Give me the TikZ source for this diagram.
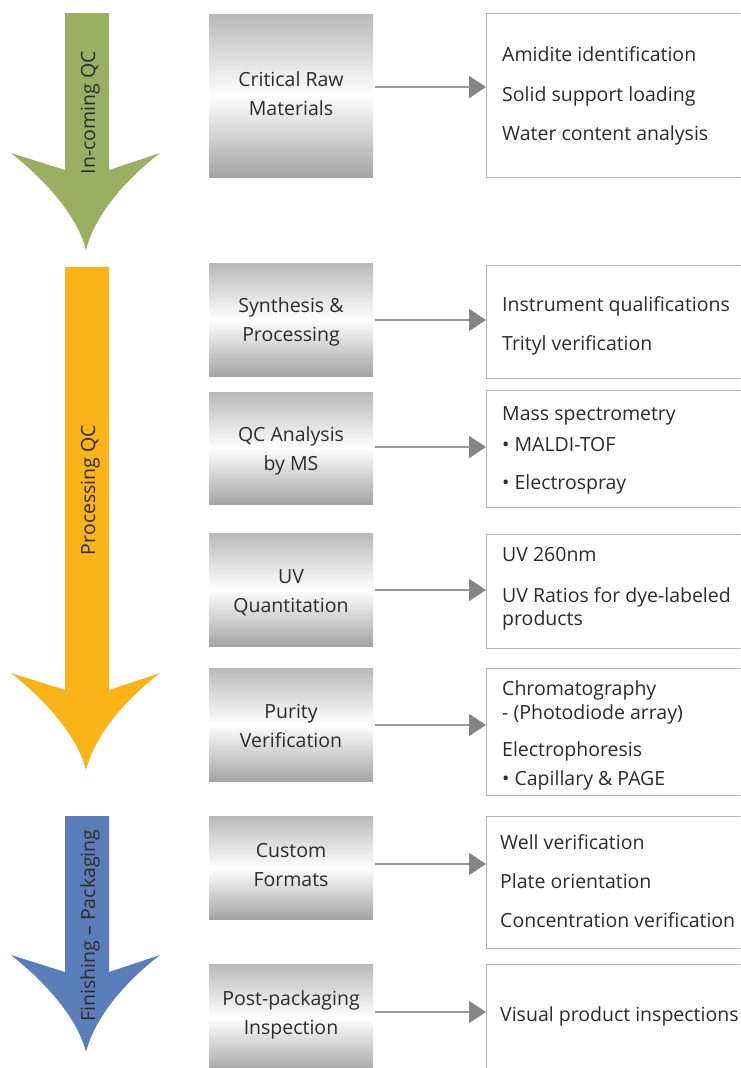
\documentclass[tikz,border=0pt]{standalone}
\usepackage{fontspec}
\setmainfont{Open Sans}
\usetikzlibrary{arrows.meta}
\definecolor{qcgreen}{HTML}{9BAF63}
\definecolor{qcorange}{HTML}{FAB418}
\definecolor{qcblue}{HTML}{5B7DB9}
\definecolor{txt}{HTML}{2B2B2B}
\definecolor{boxline}{HTML}{B4B4B4}
\definecolor{connline}{HTML}{9A9A9A}
\definecolor{conntip}{HTML}{858585}
\definecolor{gtop}{HTML}{B9B9B9}
\definecolor{gbot}{HTML}{A4A4A4}
\newcommand\qcfont{\fontsize{19.5}{23}\selectfont}
\begin{document}
\begin{tikzpicture}[x=1pt,y=-1pt,
  gbox/.style={minimum width=164pt, inner sep=0pt, draw=none,
    top color=gtop, bottom color=gbot, middle color=white},
  gtext/.style={anchor=base, inner sep=0pt, font=\qcfont, text=txt},
  rbox/.style={draw=boxline, line width=1.2pt, fill=white, anchor=north west,
    minimum width=290pt, inner sep=0pt},
  item/.style={anchor=base west, inner sep=0pt, font=\qcfont, text=txt},
  connector/.style={draw=connline, line width=2pt,
    -{Triangle[length=17pt,width=22pt,color=conntip,fill=conntip]}},
  stagelabel/.style={rotate=90, anchor=base, inner sep=0pt, font=\qcfont, text=txt}
]
\useasboundingbox (0,0) rectangle (740,1068);
\clip (0,0) rectangle (740,1068);

% ---- stage arrows ----
\fill[qcgreen] (65,13) -- (109,13) -- (109,170) -- (160,153)
  .. controls (125,180) and (95,215) .. (86,250)
  .. controls (77,215) and (45,180) .. (11,153) -- (65,170) -- cycle;
\fill[qcorange] (65,267) -- (109,267) -- (109,690) -- (160,673)
  .. controls (125,700) and (95,735) .. (86,770)
  .. controls (77,735) and (45,700) .. (11,673) -- (65,690) -- cycle;
\fill[qcblue] (65,816) -- (109,816) -- (109,972) -- (160,955)
  .. controls (125,982) and (95,1017) .. (86,1052)
  .. controls (77,1017) and (45,982) .. (11,955) -- (65,972) -- cycle;

\node[stagelabel] (s1) at (95,112.5) {In-coming QC};
\node[stagelabel] (s2) at (95,490) {Processing QC};
\node[stagelabel] (s3) at (95,925.5) {Finishing – Packaging};

% ---- grey step boxes ----
\node[gbox, minimum height=163pt] (g1) at (291,95.5) {};
\node[gbox, minimum height=113pt] (g2) at (291,319.5) {};
\node[gbox, minimum height=112pt] (g3) at (291,448) {};
\node[gbox, minimum height=113pt] (g4) at (291,589.5) {};
\node[gbox, minimum height=113pt] (g5) at (291,724.5) {};
\node[gbox, minimum height=103pt] (g6) at (291,867.5) {};
\node[gbox, minimum height=108pt] (g7) at (291,1018) {};

\node[gtext] (g1a) at (291,86) {Critical Raw};
\node[gtext] (g1b) at (291,115) {Materials};
\node[gtext] (g2a) at (291,312) {Synthesis \&};
\node[gtext] (g2b) at (291,341) {Processing};
\node[gtext] (g3a) at (291,441) {QC Analysis};
\node[gtext] (g3b) at (291,470) {by MS};
\node[gtext] (g4a) at (291,583) {UV};
\node[gtext] (g4b) at (291,612) {Quantitation};
\node[gtext] (g5a) at (291,718) {Purity};
\node[gtext] (g5b) at (291,747) {Verification};
\node[gtext] (g6a) at (291,857) {Custom};
\node[gtext] (g6b) at (291,886) {Formats};
\node[gtext] (g7a) at (291,1005) {Post-packaging};
\node[gtext] (g7b) at (291,1034) {Inspection};

% ---- detail boxes ----
\node[rbox, minimum height=164pt] (r1) at (486,13) {};
\node[rbox, minimum height=113pt] (r2) at (486,265) {};
\node[rbox, minimum height=117pt] (r3) at (486,390) {};
\node[rbox, minimum height=114pt] (r4) at (486,534) {};
\node[rbox, minimum height=127pt] (r5) at (486,668) {};
\node[rbox, minimum height=132pt] (r6) at (486,816) {};
\node[rbox, minimum height=120pt] (r7) at (486,964) {};

\node[item] (r1a) at (502,61) {Amidite identification};
\node[item] (r1b) at (502,101) {Solid support loading};
\node[item] (r1c) at (502,140) {Water content analysis};
\node[item] (r2a) at (502,311) {Instrument qualifications};
\node[item] (r2b) at (502,350) {Trityl verification};
\node[item] (r3a) at (502,420) {Mass spectrometry};
\node[item] (r3b) at (502,451) {• MALDI-TOF};
\node[item] (r3c) at (502,489) {• Electrospray};
\node[item] (r4a) at (502,561) {UV 260nm};
\node[item] (r4b) at (502,602) {UV Ratios for dye-labeled};
\node[item] (r4c) at (502,625) {products};
\node[item] (r5a) at (502,695) {Chromatography};
\node[item] (r5b) at (502,719) {- (Photodiode array)};
\node[item] (r5c) at (502,756) {Electrophoresis};
\node[item] (r5d) at (502,785) {• Capillary \& PAGE};
\node[item] (r6a) at (500,849) {Well verification};
\node[item] (r6b) at (500,888) {Plate orientation};
\node[item] (r6c) at (500,927) {Concentration verification};
\node[item] (r7a) at (500,1021) {Visual product inspections};

% ---- connectors ----
\coordinate (a1) at (0,87);
\coordinate (a2) at (0,320);
\coordinate (a3) at (0,447);
\coordinate (a4) at (0,590);
\coordinate (a5) at (0,725);
\coordinate (a6) at (0,864);
\coordinate (a7) at (0,1012);
\draw[connector] ([xshift=2pt]g1.east |- a1) -- (r1.west |- a1);
\draw[connector] ([xshift=2pt]g2.east |- a2) -- (r2.west |- a2);
\draw[connector] ([xshift=2pt]g3.east |- a3) -- (r3.west |- a3);
\draw[connector] ([xshift=2pt]g4.east |- a4) -- (r4.west |- a4);
\draw[connector] ([xshift=2pt]g5.east |- a5) -- (r5.west |- a5);
\draw[connector] ([xshift=2pt]g6.east |- a6) -- (r6.west |- a6);
\draw[connector] ([xshift=2pt]g7.east |- a7) -- (r7.west |- a7);
\end{tikzpicture}
\end{document}
